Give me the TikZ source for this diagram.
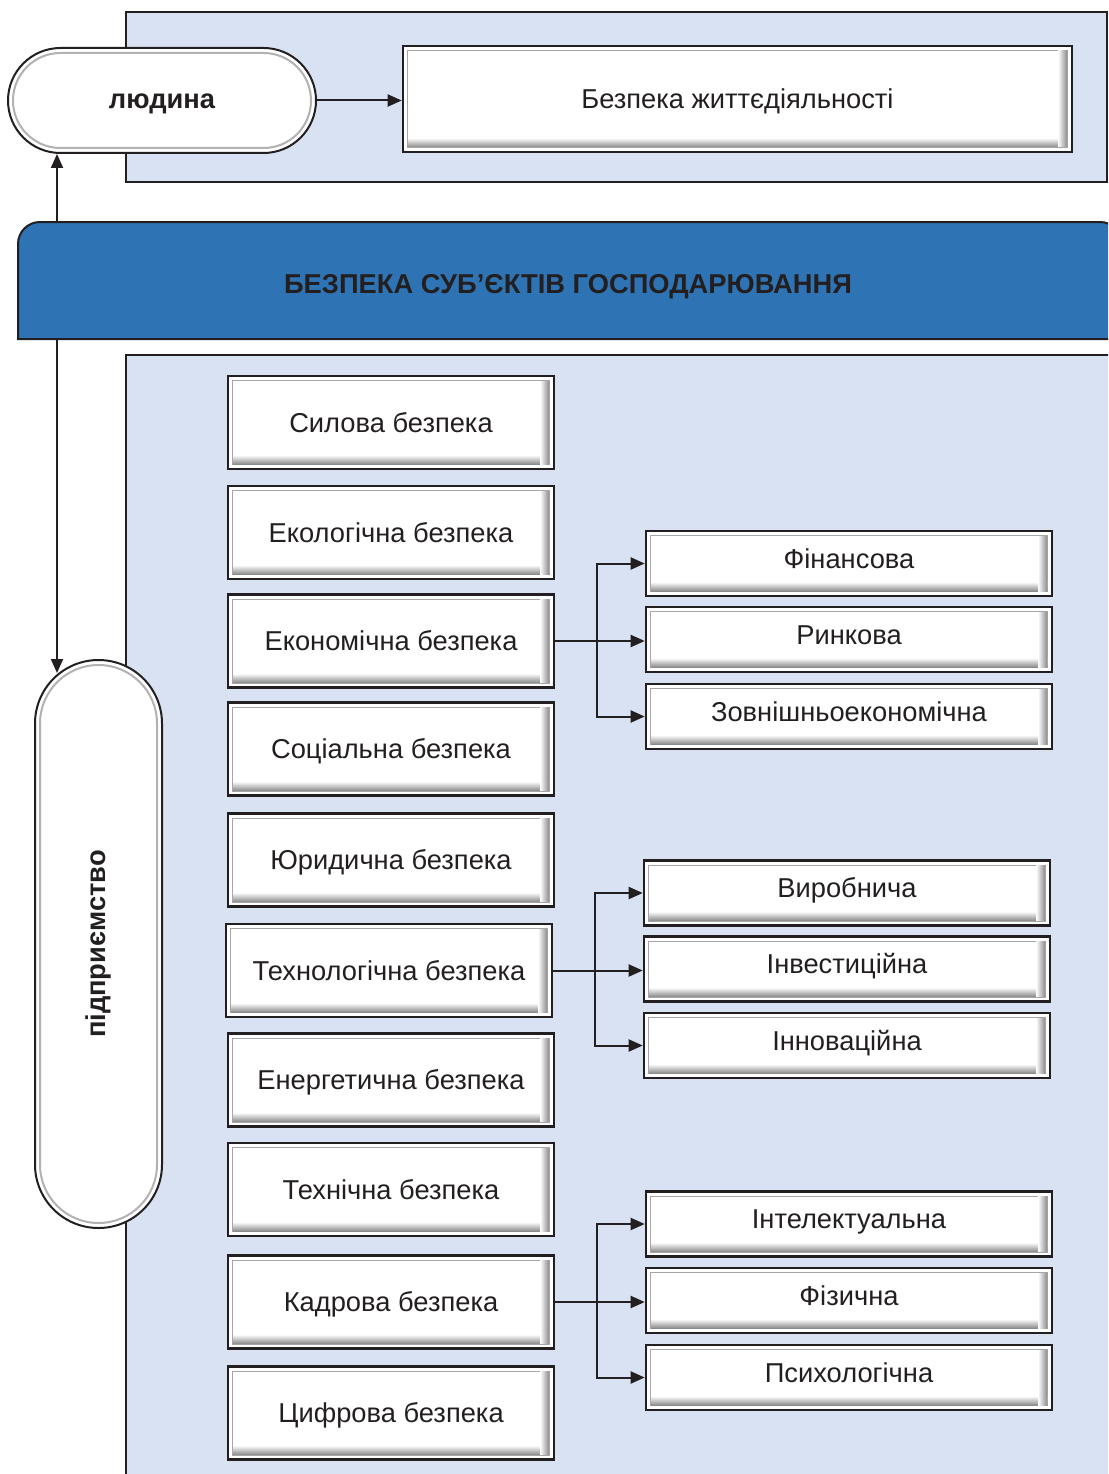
\documentclass[tikz,border=0pt]{standalone}
\usepackage{fontspec}
\setmainfont{Liberation Sans}
\usepackage{graphicx}
\usepackage{tikz}
\usetikzlibrary{arrows.meta,calc,positioning}

\definecolor{panelblue}{RGB}{217,226,243}
\definecolor{bannerblue}{RGB}{46,116,181}
\definecolor{inkgray}{RGB}{35,31,32}

\tikzset{
  panel/.style={draw=inkgray, line width=2pt, fill=panelblue},
  bevel/.style={draw=inkgray, line width=2.6pt, fill=white, text=inkgray,
    font=\fontsize{27.3}{32}\selectfont, inner sep=0pt,
    text height=19.5pt, text depth=0pt,
    path picture={
      \draw[black!35, line width=1pt]
        ([shift={(4.5pt,4.5pt)}]path picture bounding box.south west) rectangle
        ([shift={(-4.5pt,-4.5pt)}]path picture bounding box.north east);
      \fill[top color=white, bottom color=black!45]
        ([shift={(5pt,5pt)}]path picture bounding box.south west) rectangle
        ([shift={(-5pt,14pt)}]path picture bounding box.south east);
      \fill[left color=white, right color=black!45]
        ([shift={(-14pt,5pt)}]path picture bounding box.south east) rectangle
        ([shift={(-5pt,-5pt)}]path picture bounding box.north east);
    }},
  leftbox/.style={bevel, minimum width=326pt, minimum height=93pt},
  rightbox/.style={bevel, minimum width=406pt, minimum height=65pt, text depth=10pt},
  pill/.style={draw=inkgray, line width=2pt, fill=white, text=inkgray,
    font=\fontsize{27.3}{32}\selectfont\bfseries, rounded corners=#1,
    path picture={
      \draw[black!30, line width=2pt, rounded corners=#1-5pt]
        ([shift={(5pt,5pt)}]path picture bounding box.south west) rectangle
        ([shift={(-5pt,-5pt)}]path picture bounding box.north east);
    }},
  conn/.style={draw=inkgray, line width=2pt, -{Triangle[length=14pt,width=12pt]}}
}

\begin{document}
\begin{tikzpicture}[x=1pt,y=-1pt]
  \useasboundingbox (0,0) rectangle (1108,1474);
  \clip (0,0) rectangle (1108,1474);
  \def\lx{391}
  \def\rx{849}

  % background panels and banner
  \draw[panel] (126,12) rectangle (1107,182);
  \draw[panel] (126,355) rectangle (1125,1490);
  \filldraw[draw=inkgray, line width=2pt, fill=bannerblue]
    (18,339) -- (18,280) [rounded corners=22pt] -- (18,222) -- (1122,222) -- (1122,280)
    [sharp corners] -- (1122,339) -- cycle;
  \node[font=\fontsize{27.3}{32}\selectfont\bfseries, text=inkgray,
    text height=26.5pt, text depth=0pt,
    minimum width=1090pt, minimum height=117pt] (banner) at (568,280.5)
    {БЕЗПЕКА СУБ’ЄКТІВ ГОСПОДАРЮВАННЯ};

  % top row
  \node[pill=52.5pt, minimum width=308pt, minimum height=105pt,
    text height=17pt, text depth=0pt] (person) at (162,100.5) {людина};
  \node[bevel, minimum width=669pt, minimum height=106pt] (bzh) at (737.5,99) {Безпека життєдіяльності};
  \draw[conn] (person.east) -- (person.east -| bzh.west);

  % enterprise
  \node[pill=63.5pt, minimum width=127pt, minimum height=568pt] (firm) at (98.5,944)
    {\rotatebox{90}{підприємство}};
  \coordinate (trunk) at (57,0);
  \coordinate (firmtop) at (57,673);
  \draw[conn] (banner.north -| trunk) -- (person.south -| trunk);
  \draw[conn] (banner.south -| trunk) -- (firmtop);

  % kinds of security
  \node[leftbox] (sil) at (\lx,422.5) {Силова безпека};
  \node[leftbox] (ekol) at (\lx,532.5) {Екологічна безпека};
  \node[leftbox] (econ) at (\lx,641) {Економічна безпека};
  \node[leftbox] (soc) at (\lx,749) {Соціальна безпека};
  \node[leftbox] (jur) at (\lx,860) {Юридична безпека};
  \node[leftbox] (tech) at (\lx-2,970.5) {Технологічна безпека};
  \node[leftbox] (energ) at (\lx,1080) {Енергетична безпека};
  \node[leftbox] (tekhn) at (\lx,1189.5) {Технічна безпека};
  \node[leftbox] (kadr) at (\lx,1302) {Кадрова безпека};
  \node[leftbox] (dig) at (\lx,1413) {Цифрова безпека};

  % economic
  \node[rightbox] (fin) at (\rx,563.5) {Фінансова};
  \node[rightbox] (rynk) at (\rx,639.5) {Ринкова};
  \node[rightbox] (zovn) at (\rx,716.5) {Зовнішньоекономічна};
  \coordinate (j1) at ($(econ.east)+(42,0)$);
  \draw[conn] (econ.east) -- (econ.east -| rynk.west);
  \draw[conn] (j1) |- (fin.west);
  \draw[conn] (j1) |- (zovn.west);

  % technological
  \node[rightbox] (vyr) at (\rx-2,893) {Виробнича};
  \node[rightbox] (inv) at (\rx-2,969) {Інвестиційна};
  \node[rightbox] (innov) at (\rx-2,1045.5) {Інноваційна};
  \coordinate (j2) at ($(tech.east)+(42,0)$);
  \draw[conn] (tech.east) -- (tech.east -| inv.west);
  \draw[conn] (j2) |- (vyr.west);
  \draw[conn] (j2) |- (innov.west);

  % personnel
  \node[rightbox] (intel) at (\rx,1224) {Інтелектуальна};
  \node[rightbox] (fiz) at (\rx,1300.5) {Фізична};
  \node[rightbox] (psych) at (\rx,1377.5) {Психологічна};
  \coordinate (j3) at ($(kadr.east)+(42,0)$);
  \draw[conn] (kadr.east) -- (kadr.east -| fiz.west);
  \draw[conn] (j3) |- (intel.west);
  \draw[conn] (j3) |- (psych.west);
\end{tikzpicture}
\end{document}
